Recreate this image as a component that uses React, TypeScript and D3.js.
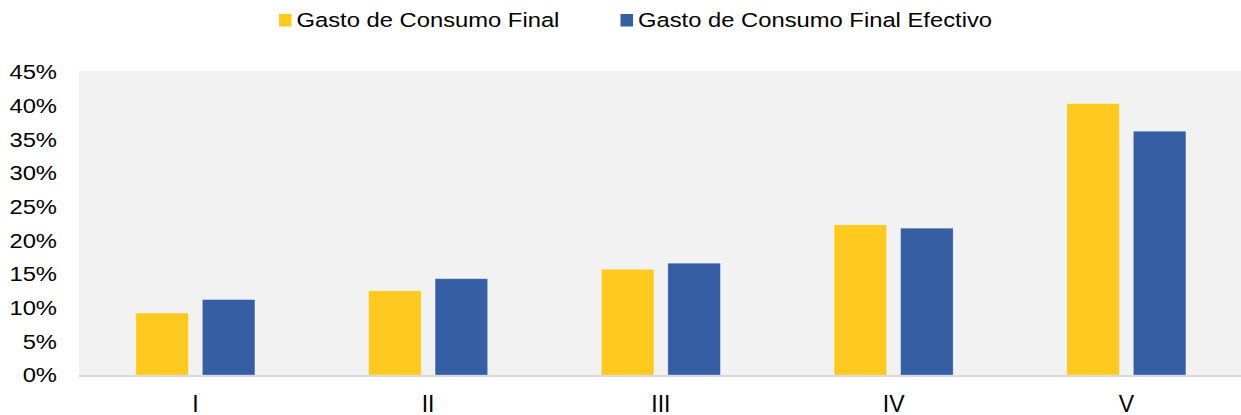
import React from "react";
import * as d3 from "d3";

const categories = ["I", "II", "III", "IV", "V"];
const seriesNames = ["Gasto de Consumo Final", "Gasto de Consumo Final Efectivo"];
const gastoFinal = [9.2, 12.5, 15.7, 22.3, 40.3];
const gastoEfectivo = [11.2, 14.3, 16.6, 21.8, 36.2];
const yTicks = [0, 5, 10, 15, 20, 25, 30, 35, 40, 45];
const colors = ["#FFC920", "#355EA5"];

const W = 1241;
const H = 415;
const FONT = "'Liberation Sans', Arial, Helvetica, sans-serif";
const SX = 1.16;

export default function App() {
  const seriesValues = [gastoFinal, gastoEfectivo];
  const x0 = d3.scaleBand<string>().domain(categories).range([79, 1242.75]).padding(0);
  const x1 = d3
    .scaleBand<number>()
    .domain([0, 1])
    .range([0, x0.bandwidth()])
    .paddingInner(0.2105)
    .paddingOuter(0.855);
  const y = d3.scaleLinear().domain([0, 45]).range([375, 72]);

  const legendItems = [
    { sq: 279, tx: 296.5 },
    { sq: 620.5, tx: 638 },
  ];

  return (
    <svg
      width={W}
      height={H}
      style={{ position: "absolute", left: 0, top: 0, display: "block", background: "#fff" }}
    >
      <rect x={79} y={71} width={W - 79} height={y(0) - 71} fill="#F2F2F2" />
      {categories.map((c, i) =>
        seriesValues.map((vals, s) => (
          <rect
            key={c + s}
            x={(x0(c) as number) + (x1(s) as number)}
            y={y(vals[i])}
            width={x1.bandwidth()}
            height={y(0) - y(vals[i])}
            fill={colors[s]}
            stroke="#ffffff"
            strokeOpacity={0.35}
            strokeWidth={0.8}
          />
        ))
      )}
      <line x1={79} x2={W} y1={376} y2={376} stroke="#D9D9D9" strokeWidth={2} />
      {yTicks.map((t) => (
        <g key={t} transform={`translate(57,${y(t) + 7.2}) scale(${SX},1)`}>
          <text textAnchor="end" fontFamily={FONT} fontSize={20.5} fill="#000">
            {`${t}%`}
          </text>
        </g>
      ))}
      {categories.map((c) => (
        <text
          key={c}
          x={(x0(c) as number) + x0.bandwidth() / 2}
          y={412}
          textAnchor="middle"
          fontFamily={FONT}
          fontSize={23}
          fill="#000"
        >
          {c}
        </text>
      ))}
      {seriesNames.map((n, s) => (
        <g key={n}>
          <rect x={legendItems[s].sq} y={14} width={12.5} height={12.5} fill={colors[s]} />
          <g transform={`translate(${legendItems[s].tx},27.3) scale(${SX},1)`}>
            <text fontFamily={FONT} fontSize={20.5} fill="#000">
              {n}
            </text>
          </g>
        </g>
      ))}
    </svg>
  );
}
